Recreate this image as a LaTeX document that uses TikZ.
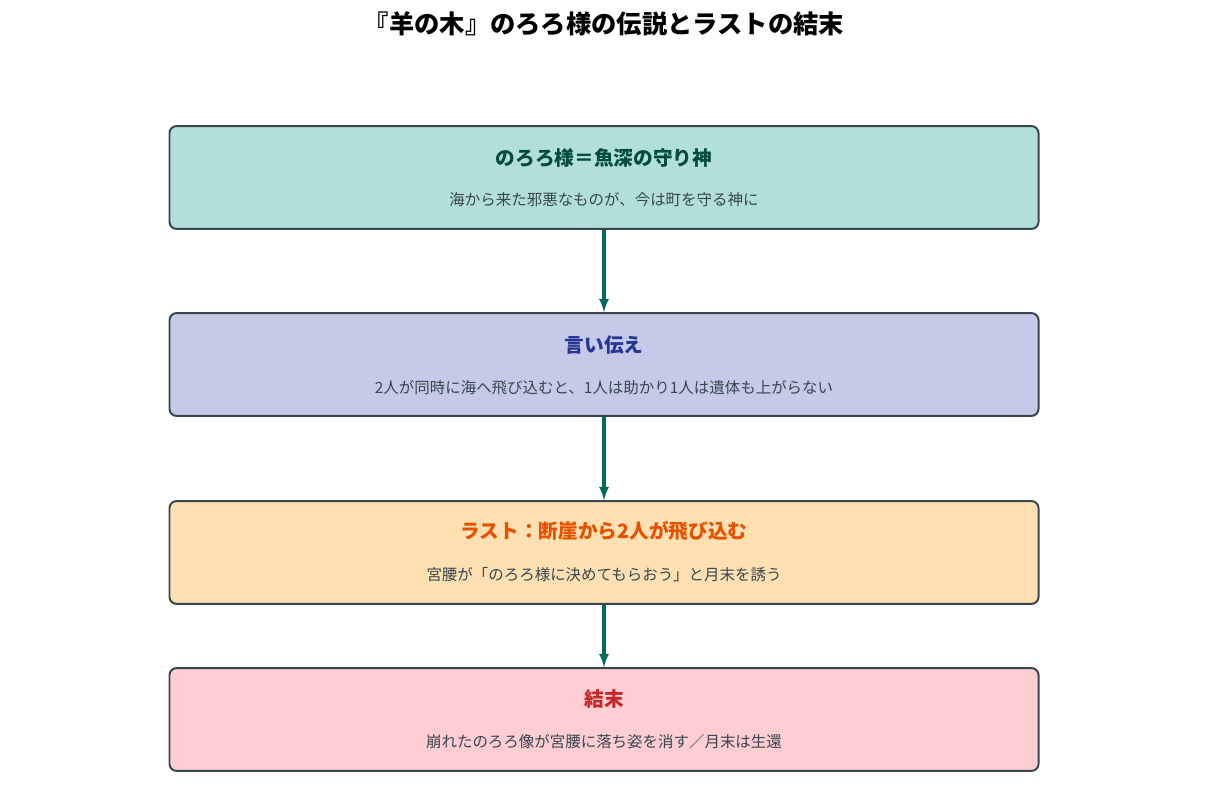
\documentclass[tikz,border=0pt]{standalone}
\usepackage{fontspec}
\setmainfont{Noto Sans CJK JP}
\usetikzlibrary{positioning}
\definecolor{bordergray}{HTML}{37474F}
\definecolor{arrowgreen}{HTML}{00695C}
\definecolor{tealfill}{HTML}{B2DFDB}
\definecolor{tealtext}{HTML}{004D40}
\definecolor{indigofill}{HTML}{C5CAE9}
\definecolor{indigotext}{HTML}{283593}
\definecolor{orangefill}{HTML}{FFE0B2}
\definecolor{orangetext}{HTML}{E65100}
\definecolor{redfill}{HTML}{FFCDD2}
\definecolor{redtext}{HTML}{C62828}
\begin{document}
\begin{tikzpicture}
        [x=0.025cm, y=-0.025cm,
        box/.style={draw=bordergray, line width=1.4pt, rounded corners=5pt, minimum width=21.72cm, minimum height=2.57cm},
        head/.style={font=\fontsize{14}{16}\selectfont\bfseries},
        sub/.style={font=\fontsize{11}{13}\selectfont, text=bordergray},
        flow/.style={-latex, line width=2.2pt, arrowgreen}]
        
        \useasboundingbox (0,0) rectangle (1208,793);
        \node[font=\fontsize{18}{20}\selectfont\bfseries] (title) at (604,24) {『羊の木』のろろ様の伝説とラストの結末};
        
        % Boxes
        \node[box, fill=tealfill] (god) at (604,177.5) {};
        \node[box, fill=indigofill] (legend) at (604,364.5) {};
        \node[box, fill=orangefill] (last) at (604,552.5) {};
        \node[box, fill=redfill] (end) at (604,719.5) {};
        
        % Texts
        \node[head, text=tealtext] (godh) at (604,158) {のろろ様＝魚深の守り神};
        \node[sub] (gods) at (604,200) {海から来た邪悪なものが、今は町を守る神に};
        \node[head, text=indigotext] (legendh) at (604,345) {言い伝え};
        \node[sub] (legends) at (604,388) {2人が同時に海へ飛び込むと、1人は助かり1人は遺体も上がらない};
        \node[head, text=orangetext] (lasth) at (604,531) {ラスト：断崖から2人が飛び込む};
        \node[sub] (lasts) at (604,575) {宮腰が「のろろ様に決めてもらおう」と月末を誘う};
        \node[head, text=redtext] (endh) at (604,699) {結末};
        \node[sub] (ends) at (604,742) {崩れたのろろ像が宮腰に落ち姿を消す／月末は生還};
        
        % Arrows
        \draw[flow] (god) -- (legend);
        \draw[flow] (legend) -- (last);
        \draw[flow] (last) -- (end);
        
    \end{tikzpicture}
\end{document}
